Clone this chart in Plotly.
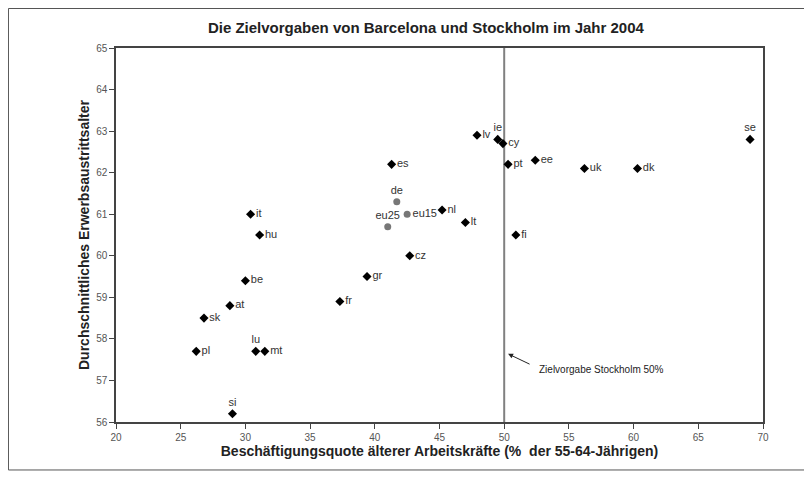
import plotly.graph_objects as go

# Countries
countries = ["se", "dk", "uk", "ee", "pt", "cy", "ie", "lv", "es", "nl", "lt", "fi",
             "cz", "gr", "fr", "it", "hu", "be", "at", "sk", "pl", "lu", "mt", "si"]
employment_rate = [69.0, 60.3, 56.2, 52.4, 50.3, 49.9, 49.5, 47.9, 41.3, 45.2, 47.0, 50.9,
                   42.7, 39.4, 37.3, 30.4, 31.1, 30.0, 28.8, 26.8, 26.2, 30.8, 31.5, 29.0]
exit_age = [62.8, 62.1, 62.1, 62.3, 62.2, 62.7, 62.8, 62.9, 62.2, 61.1, 60.8, 60.5,
            60.0, 59.5, 58.9, 61.0, 60.5, 59.4, 58.8, 58.5, 57.7, 57.7, 57.7, 56.2]
label_pos = ["top center", "middle right", "middle right", "middle right", "middle right",
             "middle right", "top center", "middle right", "middle right", "middle right",
             "middle right", "middle right", "middle right", "middle right", "middle right",
             "middle right", "middle right", "middle right", "middle right", "middle right",
             "middle right", "top center", "middle right", "top center"]

# EU aggregates
aggregates = ["de", "eu15", "eu25"]
agg_employment_rate = [41.7, 42.5, 41.0]
agg_exit_age = [61.3, 61.0, 60.7]
agg_label_pos = ["top center", "middle right", "top center"]

target_rate = 50
x_ticks = [20, 25, 30, 35, 40, 45, 50, 55, 60, 65, 70]
y_ticks = [56, 57, 58, 59, 60, 61, 62, 63, 64, 65]

FONT = "Liberation Sans, Arial, sans-serif"

fig = go.Figure()

fig.add_trace(go.Scatter(
    x=employment_rate, y=exit_age, mode="markers+text", text=countries,
    textposition=label_pos, textfont=dict(family=FONT, size=11, color="#333"),
    marker=dict(symbol="diamond", size=7, color="black"),
    cliponaxis=False, showlegend=False, hoverinfo="x+y+text"))

fig.add_trace(go.Scatter(
    x=agg_employment_rate, y=agg_exit_age, mode="markers+text", text=aggregates,
    textposition=agg_label_pos, textfont=dict(family=FONT, size=11, color="#333"),
    marker=dict(symbol="circle", size=7, color="#777"),
    cliponaxis=False, showlegend=False, hoverinfo="x+y+text"))

# Stockholm target line
fig.add_shape(type="line", xref="x", yref="y", x0=target_rate, x1=target_rate,
              y0=56, y1=65, line=dict(color="#808080", width=2), layer="below")

# Arrow and annotation text
fig.add_annotation(x=50.3, y=57.64, xref="x", yref="y", text="", showarrow=True,
                   ax=23, ay=11, arrowhead=2, arrowsize=1, arrowwidth=1,
                   arrowcolor="#222")
fig.add_annotation(x=52.5, y=57.26, xref="x", yref="y", text="Zielvorgabe Stockholm 50%",
                   showarrow=False, xanchor="left", yanchor="middle",
                   font=dict(family=FONT, size=10, color="#222"))

# Outer border
fig.add_shape(type="rect", xref="paper", yref="paper",
              x0=-0.1662, x1=1.0696, y0=-0.1283, y1=1.1056,
              line=dict(color="#555", width=1))

axis_common = dict(
    showgrid=False, zeroline=False, showline=True, linecolor="#444", linewidth=1.5,
    mirror=True, ticks="outside", ticklen=5, tickcolor="#444", tickwidth=1,
    tickfont=dict(family=FONT, size=10, color="#555"),
)

fig.update_xaxes(range=[20, 70], tickvals=x_ticks,
                 title=dict(text="<b>Beschäftigungsquote älterer Arbeitskräfte (%  der 55-64-Jährigen)</b>",
                            font=dict(family=FONT, size=14, color="#222"), standoff=4),
                 **axis_common)
fig.update_yaxes(range=[56, 65], tickvals=y_ticks,
                 title=dict(text="<b>Durchschnittliches Erwerbsaustrittsalter</b>",
                            font=dict(family=FONT, size=14, color="#222"), standoff=3),
                 **axis_common)

fig.update_layout(
    width=804, height=472,
    margin=dict(l=108, r=49, t=40, b=58),
    paper_bgcolor="white", plot_bgcolor="white",
    title=dict(text="<b>Die Zielvorgaben von Barcelona und Stockholm im Jahr 2004</b>",
               x=0.479, xref="paper", xanchor="center",
               y=1 - 20 / 472, yref="container", yanchor="middle",
               font=dict(family=FONT, size=15, color="#222")),
    font=dict(family=FONT),
)

fig.write_html("out.html")
